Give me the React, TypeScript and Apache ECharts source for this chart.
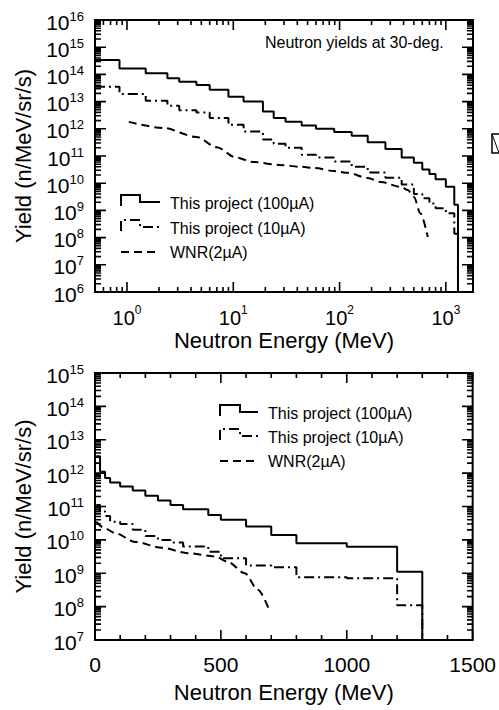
import React, { useEffect, useRef } from "react";
import * as echarts from "echarts";

const FONT = "'Liberation Sans', Arial, Helvetica, sans-serif";

// ---------------- Top panel (log-log) ----------------
const topEdges = [0.5, 0.85, 1.5, 2.4, 3.1, 4.5, 6, 9, 12.5, 19, 24, 31, 44, 60, 89, 130, 184, 270, 384, 500, 600, 700, 800, 1000, 1200, 1300];
const top100uA = [3.4e14, 1.66e14, 1.1e14, 7.2e13, 5.4e13, 4.1e13, 2.7e13, 1.5e13, 1.0e13, 4.3e12, 2.5e12, 1.8e12, 1.32e12, 1.0e12, 7.6e11, 5.6e11, 3.2e11, 1.8e11, 8.9e10, 5.6e10, 3.2e10, 2.2e10, 1.4e10, 7.4e9, 1.6e9];
const top10uA = [3.5e13, 1.9e13, 1.07e13, 7.1e12, 4.8e12, 4.0e12, 2.5e12, 1.4e12, 7.9e11, 4.0e11, 2.8e11, 2.0e11, 1.1e11, 8.9e10, 6.3e10, 4.0e10, 2.5e10, 1.6e10, 8.9e9, 4.0e9, 2.8e9, 1.8e9, 1.2e9, 7.9e8, 1.4e8];
const topWnrE = [1.04, 2.2, 4.5, 7.0, 10.5, 15.5, 27, 44, 58, 89, 120, 184, 245, 384, 438, 500, 575, 676];
const topWnrY = [1.8e12, 1.07e12, 5.0e11, 2.1e11, 8.9e10, 6.0e10, 4.7e10, 4.0e10, 3.6e10, 2.8e10, 2.4e10, 1.55e10, 1.1e10, 7.2e9, 5.6e9, 3.2e9, 7.9e8, 1.05e8];

// ---------------- Bottom panel (linear x, log y) ----------------
const bottomEdges = [5, 20, 40, 60, 100, 150, 200, 250, 300, 350, 450, 500, 600, 700, 800, 1000, 1200, 1300];
const bottom100uA = [3.2e12, 1.1e12, 7.1e11, 5.2e11, 4.0e11, 3.0e11, 2.1e11, 1.5e11, 1.1e11, 8.3e10, 5.6e10, 4.0e10, 2.5e10, 1.4e10, 7.9e9, 6.2e9, 1.1e9];
const bottom10uA = [1.1e11, 7.1e10, 5.2e10, 3.5e10, 3.0e10, 2.0e10, 1.3e10, 1.0e10, 8.3e9, 6.3e9, 4.4e9, 2.8e9, 1.7e9, 1.5e9, 7.6e8, 7.1e8, 1.1e8];
const bottomWnrE = [5, 40, 80, 159, 266, 369, 476, 528, 595, 647, 695];
const bottomWnrY = [3.5e10, 2.2e10, 1.6e10, 8.7e9, 5.8e9, 4.0e9, 3.2e9, 2.2e9, 1.0e9, 3.2e8, 6.9e7];

// ---------------- Axes / tick labels ----------------
const topXMin = 0.5, topXMax = 1800, topYMin = 1e6, topYMax = 1e16;
const botXMin = 0, botXMax = 1500, botYMin = 1e7, botYMax = 1e15;
const topXDecades = [1, 10, 100, 1000];
const topYDecades = [1e6, 1e7, 1e8, 1e9, 1e10, 1e11, 1e12, 1e13, 1e14, 1e15, 1e16];
const bottomXMajor = [0, 500, 1000, 1500];
const bottomXStep = 100;
const bottomYDecades = [1e7, 1e8, 1e9, 1e10, 1e11, 1e12, 1e13, 1e14, 1e15];

const legendLabels = ["This project (100\u00b5A)", "This project (10\u00b5A)", "WNR(2\u00b5A)"];
const xName = "Neutron Energy (MeV)";
const yName = "Yield (n/MeV/sr/s)";
const note = "Neutron yields at 30-deg.";

const GRIDS = [
  { left: 95, top: 20, width: 378, height: 272 },
  { left: 95, top: 373, width: 378, height: 267 },
];

function histPoints(edges: number[], vals: number[], floor?: number) {
  const pts: number[][] = [];
  vals.forEach((v, i) => {
    pts.push([edges[i], v]);
    pts.push([edges[i + 1], v]);
  });
  if (floor !== undefined) pts.push([edges[edges.length - 1], floor]);
  return pts;
}

function logMinors(decades: number[], lo: number, hi: number) {
  const out: number[] = [];
  const ds = [decades[0] / 10, ...decades];
  ds.forEach((d) => {
    for (let k = 2; k <= 9; k++) {
      const v = d * k;
      if (v > lo && v < hi) out.push(v);
    }
  });
  return out;
}

const xRich = {
  b: { fontSize: 20, lineHeight: 28, fontFamily: FONT, fill: "#000" },
  s: { fontSize: 12, lineHeight: 13, fontFamily: FONT, fill: "#000", verticalAlign: "top" },
};
const yRich = {
  b: { fontSize: 21, lineHeight: 25, fontFamily: FONT, fill: "#000" },
  s: { fontSize: 13, lineHeight: 13, fontFamily: FONT, fill: "#000", verticalAlign: "top" },
};

// Tick marks as broken line-series segments, in data coordinates obtained from the axes' own scales
function tickSegments(chart: any, gridIndex: number, xMaj: number[], xMin: number[], yMaj: number[], yMin: number[], xRef: number, yRef: number) {
  const g = GRIDS[gridIndex];
  const L = g.left, R = g.left + g.width, T = g.top, B = g.top + g.height;
  const toPx = (p: number[]) => chart.convertToPixel({ gridIndex }, p);
  const toData = (x: number, y: number) => chart.convertFromPixel({ gridIndex }, [x, y]);
  const data: any[] = [];
  const gap = ["-", "-"];
  const xt = (v: number, len: number) => {
    const x = toPx([v, yRef])[0];
    data.push(toData(x, B), toData(x, B - len), gap, toData(x, T), toData(x, T + len), gap);
  };
  const yt = (v: number, len: number) => {
    const y = toPx([xRef, v])[1];
    data.push(toData(L, y), toData(L + len, y), gap, toData(R, y), toData(R - len, y), gap);
  };
  xMaj.forEach((v) => xt(v, 10));
  xMin.forEach((v) => xt(v, 5));
  yMaj.forEach((v) => yt(v, 11));
  yMin.forEach((v) => yt(v, 6));
  return data;
}

function labelGraphics(chart: any, gridIndex: number, xDec: number[] | null, yDec: number[], xRef: number, yRef: number) {
  const g = GRIDS[gridIndex];
  const L = g.left, B = g.top + g.height;
  const els: any[] = [];
  if (xDec) {
    xDec.forEach((v) => {
      const x = chart.convertToPixel({ gridIndex }, [v, yRef])[0];
      const e = Math.round(Math.log10(v));
      els.push({
        type: "text", x, y: B + 12,
        style: { text: `{b|10}{s|${e}}`, rich: xRich, align: "center", verticalAlign: "top", fill: "#000", fontFamily: FONT },
      });
    });
  }
  yDec.forEach((v) => {
    const y = chart.convertToPixel({ gridIndex }, [xRef, v])[1];
    const e = Math.round(Math.log10(v));
    els.push({
      type: "text", x: L - 11, y: y + 2,
      style: { text: `{b|10}{s|${e}}`, rich: yRich, align: "right", verticalAlign: "middle", fill: "#000", fontFamily: FONT },
    });
  });
  return els;
}

function legendGraphics(x0: number, xm: number, x1: number, xt: number, rows: number[]) {
  const dashes = [null, [10, 4, 2, 4], [8, 5]];
  const els: any[] = [];
  rows.forEach((y, i) => {
    const pts = i < 2 ? [[x0, y + 3], [x0, y - 8], [xm, y - 8], [xm, y - 1], [x1, y - 1]] : [[x0, y], [x1, y]];
    els.push({
      type: "polyline",
      shape: { points: pts },
      style: { stroke: "#000", lineWidth: 2, fill: null, lineDash: dashes[i] || undefined },
    });
    els.push({
      type: "text",
      x: xt,
      y: y,
      style: { text: legendLabels[i], fontSize: 16, fontFamily: FONT, fill: "#000", align: "left", verticalAlign: "middle" },
    });
  });
  return els;
}

export default function App() {
  const ref = useRef<HTMLDivElement>(null);
  useEffect(() => {
    if (!ref.current) return;
    const chart = echarts.init(ref.current, undefined, { renderer: "svg" });
    const solid = { color: "#000", width: 2 };
    const dashDot = { color: "#000", width: 2, type: [10, 4, 2, 4] };
    const dashed = { color: "#000", width: 2, type: [8, 5] };
    const lineBase: any = { type: "line", showSymbol: false, symbol: "none", silent: true, clip: false };
    const axisNameStyle = { fontSize: 22, color: "#000", fontFamily: FONT };
    const hidden = {
      axisLine: { show: false },
      axisTick: { show: false },
      axisLabel: { show: false },
      splitLine: { show: false },
    };
    const gridStyle = { show: true, borderColor: "#000", borderWidth: 2, backgroundColor: "transparent" };
    const dataSeries: any[] = [
      { ...lineBase, xAxisIndex: 0, yAxisIndex: 0, data: histPoints(topEdges, top100uA, topYMin), lineStyle: solid },
      { ...lineBase, xAxisIndex: 0, yAxisIndex: 0, data: histPoints(topEdges, top10uA, topYMin), lineStyle: dashDot },
      {
        ...lineBase, xAxisIndex: 0, yAxisIndex: 0, smooth: 0.3, smoothMonotone: "x",
        data: topWnrE.map((e, i) => [e, topWnrY[i]]), lineStyle: dashed,
      },
      { ...lineBase, xAxisIndex: 1, yAxisIndex: 1, data: histPoints(bottomEdges, bottom100uA, botYMin), lineStyle: solid },
      { ...lineBase, xAxisIndex: 1, yAxisIndex: 1, data: histPoints(bottomEdges, bottom10uA, botYMin), lineStyle: dashDot },
      {
        ...lineBase, xAxisIndex: 1, yAxisIndex: 1, smooth: 0.3, smoothMonotone: "x",
        data: bottomWnrE.map((e, i) => [e, bottomWnrY[i]]), lineStyle: dashed,
      },
    ];
    const option: any = {
      animation: false,
      backgroundColor: "#fff",
      textStyle: { fontFamily: FONT },
      grid: GRIDS.map((g) => ({ ...g, ...gridStyle })),
      xAxis: [
        {
          type: "log", logBase: 10, gridIndex: 0, min: topXMin, max: topXMax, ...hidden,
          name: xName, nameLocation: "middle", nameGap: 37, nameTextStyle: axisNameStyle,
        },
        {
          type: "value", gridIndex: 1, min: botXMin, max: botXMax, interval: 500,
          axisLine: { show: false }, axisTick: { show: false }, splitLine: { show: false },
          axisLabel: {
            show: true, fontSize: 21, color: "#000", fontFamily: FONT, margin: 14, showMaxLabel: true, showMinLabel: true,
            formatter: (v: number) => String(v),
          },
          name: xName, nameLocation: "middle", nameGap: 41, nameTextStyle: axisNameStyle,
        },
      ],
      yAxis: [
        {
          type: "log", logBase: 10, gridIndex: 0, min: topYMin, max: topYMax, ...hidden,
          name: yName, nameLocation: "middle", nameGap: 61, nameRotate: 90, nameTextStyle: axisNameStyle,
        },
        {
          type: "log", logBase: 10, gridIndex: 1, min: botYMin, max: botYMax, ...hidden,
          name: yName, nameLocation: "middle", nameGap: 61, nameRotate: 90, nameTextStyle: axisNameStyle,
        },
      ],
      series: dataSeries,
    };
    chart.setOption(option);

    const bottomXMinor = Array.from({ length: (botXMax - botXMin) / bottomXStep + 1 }, (_, i) => botXMin + i * bottomXStep)
      .filter((v) => bottomXMajor.indexOf(v) < 0);
    const tickStyle = { color: "#000", width: 1.6 };
    const tickSeries: any[] = [
      {
        ...lineBase, xAxisIndex: 0, yAxisIndex: 0, connectNulls: false, lineStyle: tickStyle,
        data: tickSegments(chart, 0, topXDecades, logMinors(topXDecades, topXMin, topXMax), topYDecades, logMinors(topYDecades, topYMin, topYMax), topXMin, topYMin),
      },
      {
        ...lineBase, xAxisIndex: 1, yAxisIndex: 1, connectNulls: false, lineStyle: tickStyle,
        data: tickSegments(chart, 1, bottomXMajor, bottomXMinor, bottomYDecades, logMinors(bottomYDecades, botYMin, botYMax), botXMin, botYMin),
      },
    ];
    const graphics: any[] = [
      ...legendGraphics(121, 140, 160, 170, [203, 228, 252]),
      ...legendGraphics(220, 240, 258, 268, [413, 437, 461]),
      {
        type: "text", x: 265, y: 42,
        style: { text: note, fontSize: 16, fontFamily: FONT, fill: "#000", align: "left", verticalAlign: "middle" },
      },
      { type: "rect", shape: { x: 492, y: 134, width: 14, height: 19 }, style: { stroke: "#000", lineWidth: 1.5, fill: null } },
      { type: "line", shape: { x1: 492, y1: 134, x2: 499, y2: 153 }, style: { stroke: "#000", lineWidth: 1 } },
      ...labelGraphics(chart, 0, topXDecades, topYDecades, topXMin, topYMin),
      ...labelGraphics(chart, 1, null, bottomYDecades, botXMin, botYMin),
    ];
    chart.setOption({ series: [...dataSeries, ...tickSeries], graphic: { elements: graphics } });
    return () => chart.dispose();
  }, []);
  return <div ref={ref} style={{ position: "absolute", left: 0, top: 0, width: 499, height: 710, background: "#fff" }} />;
}
